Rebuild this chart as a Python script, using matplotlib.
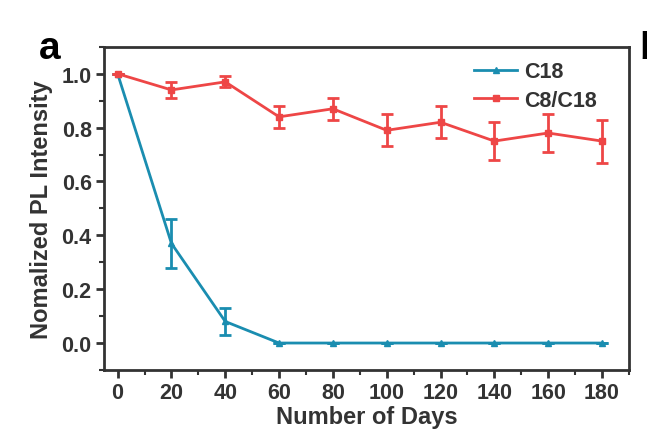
import matplotlib.pyplot as plt
from matplotlib.ticker import MultipleLocator
from matplotlib.lines import Line2D

plt.rcParams['font.family'] = ['Liberation Sans', 'DejaVu Sans']
plt.rcParams['font.weight'] = 'bold'

# data
days = [0, 20, 40, 60, 80, 100, 120, 140, 160, 180]
c18 = [1.0, 0.37, 0.08, 0.0, 0.0, 0.0, 0.0, 0.0, 0.0, 0.0]
c18_err = [0.0, 0.09, 0.05, 0.0, 0.0, 0.0, 0.0, 0.0, 0.0, 0.0]
c8c18 = [1.0, 0.94, 0.97, 0.84, 0.87, 0.79, 0.82, 0.75, 0.78, 0.75]
c8c18_err = [0.0, 0.03, 0.02, 0.04, 0.04, 0.06, 0.06, 0.07, 0.07, 0.08]

blue = '#1a8db0'
red = '#ee4646'
dark = '#333333'

fig = plt.figure(figsize=(6.47, 4.39), dpi=100)
ax = fig.add_axes([0.161, 0.155, 0.811, 0.736])

ax.errorbar(days, c18, yerr=c18_err, color=blue, marker='^', markersize=5,
            linewidth=2, elinewidth=2, capsize=4, capthick=2)
ax.errorbar(days, c8c18, yerr=c8c18_err, color=red, marker='s', markersize=4,
            linewidth=2, elinewidth=2, capsize=4, capthick=2)

ax.set_xlim(-5, 190)
ax.set_ylim(-0.1, 1.1)
ax.xaxis.set_major_locator(MultipleLocator(20))
ax.xaxis.set_minor_locator(MultipleLocator(10))
ax.yaxis.set_major_locator(MultipleLocator(0.2))
ax.yaxis.set_minor_locator(MultipleLocator(0.1))
ax.yaxis.set_major_formatter(plt.FuncFormatter(lambda v, p: f'{v:.1f}'))

for s in ax.spines.values():
    s.set_linewidth(2)
    s.set_color(dark)
ax.tick_params(which='major', length=6, width=2, color=dark, labelsize=15.5,
               labelcolor=dark, pad=3)
ax.tick_params(which='minor', length=3.5, width=1.5, color=dark)

ax.set_xlabel('Number of Days', fontsize=17, fontweight='bold', color=dark,
              labelpad=1)
ax.set_ylabel('Nomalized PL Intensity', fontsize=17, fontweight='bold',
              color=dark, labelpad=6)

handles = [Line2D([], [], color=blue, marker='^', markersize=5, linewidth=2),
           Line2D([], [], color=red, marker='s', markersize=4, linewidth=2)]
leg = ax.legend(handles, ['C18', 'C8/C18'], loc='upper right',
                bbox_to_anchor=(0.975, 1.015), frameon=False,
                fontsize=15.5, handlelength=2.0, handletextpad=0.3,
                labelspacing=0.35)
for t in leg.get_texts():
    t.set_color(dark)

fig.text(0.06, 0.865, 'a', fontsize=28, fontweight='bold', color='black')
fig.text(0.988, 0.865, 'b', fontsize=28, fontweight='bold', color='black')

fig.savefig('out.png', dpi=100)
